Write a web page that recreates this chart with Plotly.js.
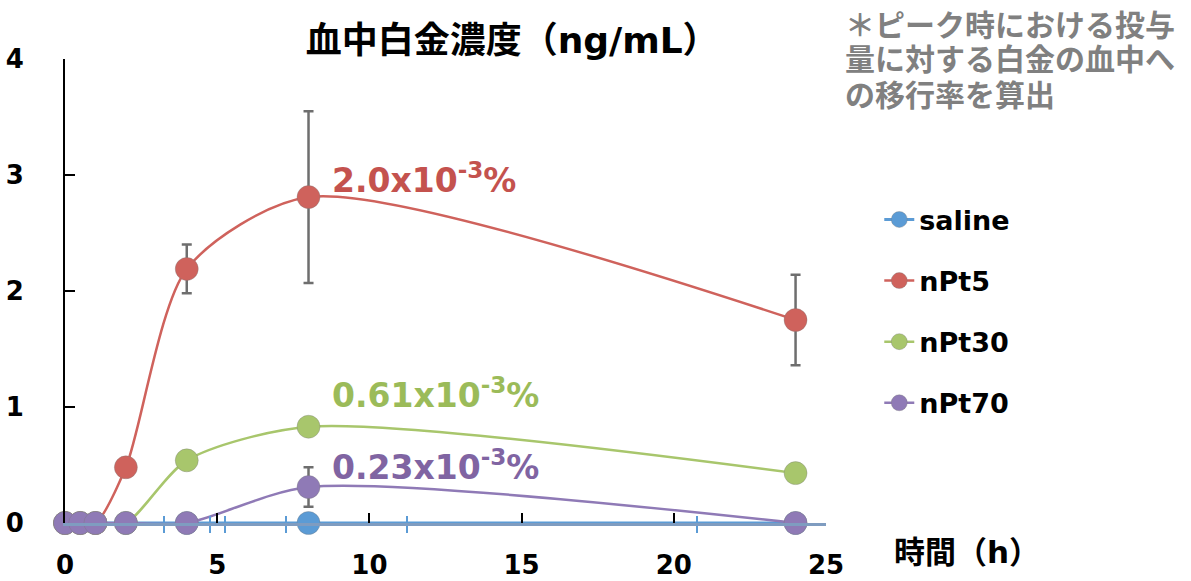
<!DOCTYPE html>
<html>
<head>
<meta charset="utf-8">
<script src="https://cdn.plot.ly/plotly-3.0.1.min.js"></script>
<style>html,body{margin:0;padding:0;background:#fff;}#chart{width:1191px;height:581px;}</style>
</head>
<body>
<div id="chart"></div>
<script>
// ---- data ----
const hours = [0, 0.5, 1, 2, 4, 8, 24];
const saline = [0, 0, 0, 0, 0, 0, 0];
const nPt5 = [0, 0, 0, 0.48, 2.19, 2.81, 1.75];
const nPt5Err = [0, 0, 0, 0, 0.21, 0.74, 0.39];
const nPt30 = [0, 0, 0, 0, 0.54, 0.83, 0.43];
const nPt30Err = [0, 0, 0, 0, 0, 0, 0.04];
const nPt70 = [0, 0, 0, 0, 0, 0.31, 0];
const nPt70Err = [0, 0, 0, 0, 0, 0.17, 0];
const seriesNames = ['saline', 'nPt5', 'nPt30', 'nPt70'];
const xTicks = [0, 5, 10, 15, 20, 25];
const yTicks = [0, 1, 2, 3, 4];
const salineMinorTicks = [3.25, 4.76, 5.25, 7.25, 11.22, 20.77];
const peakLabels = [
  {x: 8.7, y: 2.97, text: '2.0x10<sup>-3</sup>%', color: '#C4524E'},
  {x: 8.7, y: 1.12, text: '0.61x10<sup>-3</sup>%', color: '#9BBB59'},
  {x: 8.7, y: 0.50, text: '0.23x10<sup>-3</sup>%', color: '#8064A2'}
];
const noteLines = ['＊ピーク時における投与', '量に対する白金の血中へ', 'の移行率を算出'];
const chartTitle = '血中白金濃度（ng/mL）';
const xTitle = '時間（h）';

const FONT = 'DejaVu Sans, Verdana, "Noto Sans CJK JP", sans-serif';
const colors = ['#5B9BD5', '#CF625C', '#A8C66C', '#8F7AB6'];
const ys = [saline, nPt5, nPt30, nPt70];
const errs = [null, nPt5Err, nPt30Err, nPt70Err];

const traces = ys.map((y, i) => {
  const t = {
    type: 'scatter', mode: 'lines+markers', name: seriesNames[i],
    legendgroup: 'g' + i,
    x: hours, y: y, cliponaxis: false,
    line: {color: colors[i], width: 2.5, shape: 'spline', smoothing: 0.75},
    marker: {color: colors[i], size: 23, line: {color: 'rgba(120,120,120,0.35)', width: 1}}
  };
  if (errs[i]) {
    t.error_y = {type: 'data', array: errs[i], visible: true, color: '#6E6E6E', thickness: 2.5, width: 5};
  }
  return t;
});
traces[0].line.width = 3;
// topmost series drawn on the overlay axis (same scale) so its inside ticks render
traces[3].xaxis = 'x2';

const annotations = peakLabels.map(p => ({
  x: p.x, y: p.y, xref: 'x', yref: 'y', text: p.text, showarrow: false,
  xanchor: 'left', yanchor: 'middle',
  font: {family: FONT, size: 33, color: p.color, weight: 'bold'}
}));
const noteY = [1.073, 0.998, 0.922];
noteLines.forEach((t, i) => annotations.push({
  x: 1.022, y: noteY[i], xref: 'paper', yref: 'paper', text: t, showarrow: false,
  xanchor: 'left', yanchor: 'middle',
  font: {family: FONT, size: 30, color: '#808080', weight: 'bold'}
}));
annotations.push({
  x: 1.087, y: -0.062, xref: 'paper', yref: 'paper', text: xTitle, showarrow: false,
  xanchor: 'left', yanchor: 'middle',
  font: {family: FONT, size: 31, color: '#000', weight: 'bold'}
});

const layout = {
  width: 1191, height: 581,
  margin: {l: 65, r: 365, t: 59, b: 58},
  paper_bgcolor: '#fff', plot_bgcolor: '#fff',
  font: {family: FONT, color: '#000'},
  title: {text: chartTitle, x: 0.43, xanchor: 'center', y: 0.931, yanchor: 'middle',
          font: {family: FONT, size: 36, color: '#000', weight: 'bold'}},
  xaxis: {
    range: [0, 25], tickvals: xTicks, ticktext: xTicks.map(String),
    ticks: 'inside', ticklen: 10, tickwidth: 2, tickcolor: '#000',
    minor: {tickmode: 'array', tickvals: salineMinorTicks, ticks: 'outside', ticklen: 7, tickwidth: 2, tickcolor: '#5B9BD5', showgrid: false},
    showline: true, linecolor: '#7F9CC0', linewidth: 3,
    showgrid: false, zeroline: false, ticklabelstandoff: 17,
    tickfont: {family: FONT, size: 26, color: '#000', weight: 'bold'}
  },
  xaxis2: {
    overlaying: 'x', anchor: 'y', side: 'bottom', range: [0, 25],
    tickmode: 'array', tickvals: salineMinorTicks, ticks: 'inside', ticklen: 7, tickwidth: 2, tickcolor: '#5B9BD5',
    showticklabels: false, showgrid: false, zeroline: false, showline: false
  },
  yaxis: {
    range: [0, 4], tickvals: yTicks, ticktext: yTicks.map(String),
    ticks: 'inside', ticklen: 10, tickwidth: 2, tickcolor: '#000',
    showline: true, linecolor: '#000', linewidth: 2,
    showgrid: false, zeroline: false, ticklabelstandoff: 34,
    tickfont: {family: FONT, size: 26, color: '#000', weight: 'bold'}
  },
  showlegend: true,
  legend: {
    x: 1.07, xanchor: 'left', y: 0.706, yanchor: 'top',
    traceorder: 'grouped', tracegroupgap: 23,
    font: {family: FONT, size: 27, color: '#000', weight: 'bold'},
    bgcolor: 'rgba(0,0,0,0)'
  },
  annotations: annotations
};

Plotly.newPlot('chart', traces, layout, {displayModeBar: false, staticPlot: true});
</script>
</body>
</html>
